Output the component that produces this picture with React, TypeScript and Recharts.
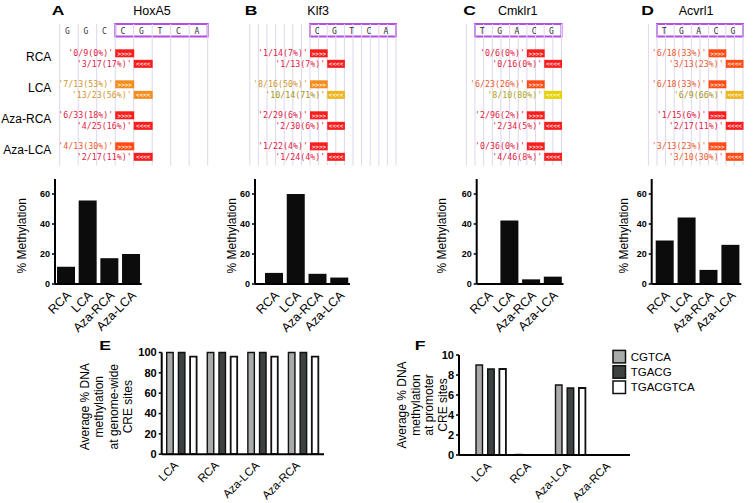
import React from "react";
import {
  BarChart,
  Bar,
  XAxis,
  YAxis,
  Label,
  Legend,
  ScatterChart,
  Scatter,
  ReferenceLine,
  ReferenceArea,
} from "recharts";

// ---- data ----
const samples = ["RCA", "LCA", "Aza-RCA", "Aza-LCA"];
const genes = ["HoxA5", "Klf3", "Cmklr1", "Acvrl1"];
const panelTags = ["A", "B", "C", "D"];
const sequences = ["GGCCGTCA", "CGTCA", "TGACG", "TGACG"];
const creStart = [3, 0, 0, 0];
const creLength = 5;
const cpgAt = [3, 0, 3, 3];

const hoxa5Fwd = ["0/9(0%)", "7/13(53%)", "6/33(18%)", "4/13(30%)"];
const hoxa5Rev = ["3/17(17%)", "13/23(56%)", "4/25(16%)", "2/17(11%)"];
const klf3Fwd = ["1/14(7%)", "8/16(50%)", "2/29(6%)", "1/22(4%)"];
const klf3Rev = ["1/13(7%)", "10/14(71%)", "2/30(6%)", "1/24(4%)"];
const cmklr1Fwd = ["0/6(0%)", "6/23(26%)", "2/96(2%)", "0/36(0%)"];
const cmklr1Rev = ["0/16(0%)", "8/10(80%)", "2/34(5%)", "4/46(8%)"];
const acvrl1Fwd = ["6/18(33%)", "6/18(33%)", "1/15(6%)", "3/13(23%)"];
const acvrl1Rev = ["3/13(23%)", "6/9(66%)", "2/17(11%)", "3/10(30%)"];
const fwdReads = [hoxa5Fwd, klf3Fwd, cmklr1Fwd, acvrl1Fwd];
const revReads = [hoxa5Rev, klf3Rev, cmklr1Rev, acvrl1Rev];

const hoxa5Meth = [11.5, 55.6, 17.2, 20.0];
const klf3Meth = [7.4, 60.0, 6.8, 4.3];
const cmklr1Meth = [0, 42.4, 3.1, 4.9];
const acvrl1Meth = [29.0, 44.4, 9.4, 26.1];
const methValues = [hoxa5Meth, klf3Meth, cmklr1Meth, acvrl1Meth];
const methTicks = [0, 20, 40, 60];

const creGroups = ["LCA", "RCA", "Aza-LCA", "Aza-RCA"];
const creSeries = ["CGTCA", "TGACG", "TGACGTCA"];
const genomeCGTCA = [100, 100, 100, 100];
const genomeTGACG = [100, 100, 100, 100];
const genomeTGACGTCA = [96, 96, 96, 96];
const promoterCGTCA = [9.0, 0.05, 7.0, 0];
const promoterTGACG = [8.6, 0, 6.7, 0];
const promoterTGACGTCA = [8.6, 0, 6.7, 0];
const genomeTicks = [0, 20, 40, 60, 80, 100];
const promoterTicks = [0, 2, 4, 6, 8, 10];
const genomeLabel = ["Average % DNA", "methylation", "at genome-wide", "CRE sites"];
const promoterLabel = ["Average % DNA", "methylation", "at promoter", "CRE sites"];

// ---- styles / layout ----
const FONT = '"Liberation Sans", Arial, Helvetica, sans-serif';
const MONO = '"DejaVu Sans Mono", monospace';
const AXIS = { stroke: "#000", strokeWidth: 2 };
const seriesFill = ["#a9abab", "#3c4141", "#ffffff"];

const TOP_H = 170;
const ROW0 = 53.3;
const ROW_PX = 31;
const REV_DY = 0.34;
const SEQ_Y = -0.735;
const HEAD_Y = -1.38;
const GRID_Y = [-0.95, 3.62];
const CRE_Y = [-0.945, -0.54];

const seqLayout = [
  { left: 0, width: 215, x0: 59.7, cell: 18.5, gridFrom: 0, gridTo: 8, gridStep: 1, tagAt: -0.09, titleAt: 4.99 },
  { left: 215, width: 185, x0: 310, cell: 17.2, gridFrom: -3.5, gridTo: 5, gridStep: 0.5, tagAt: -3.43, titleAt: 0.47 },
  { left: 400, width: 170, x0: 475, cell: 17.3, gridFrom: -0.5, gridTo: 5, gridStep: 0.5, tagAt: -0.32, titleAt: 2.47 },
  { left: 570, width: 185, x0: 657, cell: 17.2, gridFrom: -0.5, gridTo: 5, gridStep: 0.5, tagAt: -0.55, titleAt: 2.27 },
];

const METH_TOP = 172;
const METH_H = 163;
const methLayout = [
  { left: 0, width: 150, axis: 55, right: 8.3, pad: 0, labelX: 25.7 },
  { left: 190, width: 190, axis: 65, right: 30, pad: 8, labelX: 46.3 },
  { left: 380, width: 190, axis: 96.7, right: 6.5, pad: 0, labelX: 66.3 },
  { left: 570, width: 185, axis: 81.7, right: 13.7, pad: 2, labelX: 58 },
];

function readColors(label: string) {
  const pct = parseFloat(label.slice(label.indexOf("(") + 1));
  if (pct < 20) return { text: "#e3203f", box: "#f81e1e" };
  if (pct < 45) return { text: "#ec5a2c", box: "#ff4b14" };
  if (pct < 62) return { text: "#d3952e", box: "#f38e1e" };
  if (pct < 75) return { text: "#a59318", box: "#efb51c" };
  return { text: "#a9a620", box: "#e6d200" };
}

function RotText({ x, y, lines, size, step = 0 }: { x: number; y: number; lines: string[]; size: number; step?: number }) {
  return (
    <g>
      {lines.map((t, i) => {
        const bx = x + i * step;
        return (
          <text key={t} x={bx} y={y} transform={`rotate(-90 ${bx} ${y})`} textAnchor="middle" fontSize={size} fill="#000">
            {t}
          </text>
        );
      })}
    </g>
  );
}

function slantTick(dx: number, dy: number, size: number) {
  return (props: any) => {
    const ax = props.x + dx;
    const ay = props.y + dy;
    return (
      <text x={ax} y={ay} textAnchor="end" fontSize={size} fill="#000" transform={`rotate(-45 ${ax} ${ay})`}>
        {props.payload.value}
      </text>
    );
  };
}

function SeqPanel({ idx }: { idx: number }) {
  const lay = seqLayout[idx];
  const xDom = [(lay.left - lay.x0) / lay.cell, (lay.left + lay.width - lay.x0) / lay.cell];
  const yDom = [-ROW0 / ROW_PX, (TOP_H - ROW0) / ROW_PX];
  const letters = sequences[idx].split("").map((ch, i) => ({ x: i + 0.42, y: SEQ_Y, text: ch }));
  const fwd = fwdReads[idx].map((label, i) => ({ x: cpgAt[idx], y: i, text: label, dir: ">>>>" }));
  const rev = revReads[idx].map((label, i) => ({ x: cpgAt[idx] + 1, y: i + REV_DY, text: label, dir: "<<<<" }));
  const heads = [
    { x: lay.tagAt, y: HEAD_Y, text: panelTags[idx], tag: true },
    { x: lay.titleAt, y: HEAD_Y, text: genes[idx], tag: false },
  ];
  const rowNames = idx === 0 ? samples.map((s, i) => ({ x: -0.45, y: i + 0.09, text: s })) : [];
  const grid: number[] = [];
  for (let g = lay.gridFrom; g <= lay.gridTo + 1e-6; g += lay.gridStep) grid.push(g);

  const readShape = (p: any) => {
    const c = readColors(p.payload.text);
    return (
      <g>
        <rect x={p.cx} y={p.cy - 4} width={lay.cell + 0.5} height={8} fill={c.box} />
        <text x={p.cx + lay.cell / 2 + 0.3} y={p.cy + 2.2} textAnchor="middle" fontSize={6} fontWeight={700} fill="#fff" fillOpacity={0.85} fontFamily={MONO}>
          {p.payload.dir}
        </text>
        <text x={p.cx - 2} y={p.cy + 3} textAnchor="end" fontSize={8.3} fill={c.text} fontFamily={MONO}>
          {`'${p.payload.text}'`}
        </text>
      </g>
    );
  };
  const letterShape = (p: any) => (
    <text x={p.cx} y={p.cy + 3} textAnchor="middle" fontSize={8} fill="#333" fontFamily={MONO}>
      {p.payload.text}
    </text>
  );
  const headShape = (p: any) =>
    p.payload.tag ? (
      <text transform={`translate(${p.cx} ${p.cy + 4.7}) scale(1.35 1)`} textAnchor="middle" fontSize={13} fontWeight={700} fill="#000">
        {p.payload.text}
      </text>
    ) : (
      <text x={p.cx} y={p.cy + 4.5} textAnchor="middle" fontSize={12.5} fill="#000">
        {p.payload.text}
      </text>
    );
  const rowShape = (p: any) => (
    <text x={p.cx} y={p.cy + 4.5} textAnchor="end" fontSize={12} fill="#000">
      {p.payload.text}
    </text>
  );

  return (
    <div style={{ position: "absolute", left: lay.left, top: 0 }}>
      <ScatterChart width={lay.width} height={TOP_H} margin={{ top: 0, right: 0, bottom: 0, left: 0 }}>
        <XAxis type="number" dataKey="x" domain={xDom} hide allowDataOverflow />
        <YAxis type="number" dataKey="y" domain={yDom} reversed hide allowDataOverflow />
        {grid.map((g) => (
          <ReferenceLine
            key={g}
            segment={[
              { x: g, y: GRID_Y[0] },
              { x: g, y: GRID_Y[1] },
            ]}
            stroke="#dcd7ef"
            strokeWidth={1}
          />
        ))}
        <ReferenceArea
          x1={creStart[idx]}
          x2={creStart[idx] + creLength}
          y1={CRE_Y[0]}
          y2={CRE_Y[1]}
          fill="#fff"
          fillOpacity={1}
          stroke="#b24fe0"
          strokeWidth={2}
        />
        <Scatter data={letters} shape={letterShape} isAnimationActive={false} />
        <Scatter data={fwd} shape={readShape} isAnimationActive={false} />
        <Scatter data={rev} shape={readShape} isAnimationActive={false} />
        <Scatter data={heads} shape={headShape} isAnimationActive={false} />
        {rowNames.length > 0 && <Scatter data={rowNames} shape={rowShape} isAnimationActive={false} />}
      </ScatterChart>
    </div>
  );
}

function MethChart({ idx }: { idx: number }) {
  const lay = methLayout[idx];
  const data = samples.map((s, i) => ({ name: s, value: methValues[idx][i] }));
  return (
    <div style={{ position: "absolute", left: lay.left, top: METH_TOP }}>
      <BarChart width={lay.width} height={METH_H} data={data} margin={{ top: 7, right: lay.right, bottom: 0, left: 0 }}>
        <XAxis
          dataKey="name"
          height={51}
          interval={0}
          tickLine={false}
          tickSize={0}
          tickMargin={0}
          axisLine={AXIS}
          padding={{ left: lay.pad, right: 0 }}
          tick={slantTick(6, 12, 12.5)}
        />
        <YAxis
          width={lay.axis}
          domain={[0, 70]}
          ticks={methTicks}
          interval={0}
          tickSize={3}
          tickMargin={2}
          axisLine={AXIS}
          tickLine={{ stroke: "#000", strokeWidth: 1.5 }}
          tick={{ fontSize: 9, fontWeight: 700, fill: "#000" }}
        >
          <Label content={() => <RotText x={lay.labelX} y={63.8} lines={["% Methylation"]} size={12} />} />
        </YAxis>
        <Bar dataKey="value" fill="#0c0c0c" barSize={18} isAnimationActive={false} />
      </BarChart>
    </div>
  );
}

function CreLegend() {
  return (
    <svg width={140} height={50}>
      {creSeries.map((s, i) => {
        const cy = 9.7 + 15.3 * i;
        return (
          <g key={s}>
            <rect x={3} y={cy - 6.3} width={12.5} height={12.5} fill={seriesFill[i]} stroke="#111" strokeWidth={1.5} />
            <text x={20.7} y={cy + 4} fontSize={11.5} fill="#000" fontFamily={FONT}>
              {s}
            </text>
          </g>
        );
      })}
    </svg>
  );
}

type CreProps = {
  left: number;
  width: number;
  top: number;
  right: number;
  axis: number;
  pad: number;
  plotH: number;
  domain: number[];
  ticks: number[];
  values: number[][];
  label: string[];
  labelX: number;
  labelY: number;
  labelStep: number;
  dx: number;
  legend: boolean;
};

function CreChart(p: CreProps) {
  const data = creGroups.map((g, i) => ({ name: g, s0: p.values[0][i], s1: p.values[1][i], s2: p.values[2][i] }));
  return (
    <div style={{ position: "absolute", left: p.left, top: 335 }}>
      <BarChart width={p.width} height={168} data={data} barGap={5.2} margin={{ top: p.top, right: p.right, bottom: 0, left: 0 }}>
        <XAxis
          dataKey="name"
          height={168 - p.top - p.plotH}
          interval={0}
          tickLine={false}
          tickSize={0}
          tickMargin={0}
          axisLine={AXIS}
          padding={{ left: p.pad, right: 0 }}
          tick={slantTick(p.dx, 12, 11.5)}
        />
        <YAxis
          width={p.axis}
          domain={p.domain}
          ticks={p.ticks}
          interval={0}
          tickSize={3}
          tickMargin={2}
          axisLine={AXIS}
          tickLine={{ stroke: "#000", strokeWidth: 1.5 }}
          tick={{ fontSize: 11, fontWeight: 700, fill: "#000" }}
        >
          <Label content={() => <RotText x={p.labelX} y={p.labelY} lines={p.label} size={12} step={p.labelStep} />} />
        </YAxis>
        {p.legend && (
          <Legend
            layout="horizontal"
            verticalAlign="middle"
            align="center"
            content={() => <CreLegend />}
            wrapperStyle={{ left: 230, top: 12, width: 140, height: 50 }}
          />
        )}
        {creSeries.map((s, i) => (
          <Bar
            key={s}
            dataKey={`s${i}`}
            name={s}
            fill={seriesFill[i]}
            stroke="#111"
            strokeWidth={i === 2 ? 1.8 : 1.4}
            barSize={6.5}
            isAnimationActive={false}
          />
        ))}
      </BarChart>
    </div>
  );
}

function Tag({ x, y, text }: { x: number; y: number; text: string }) {
  return (
    <svg style={{ position: "absolute", left: x - 12, top: y - 12 }} width={24} height={24}>
      <text transform="translate(12 16.7) scale(1.35 1)" textAnchor="middle" fontSize={13} fontWeight={700} fill="#000" fontFamily={FONT}>
        {text}
      </text>
    </svg>
  );
}

export default function App() {
  return (
    <div style={{ position: "absolute", left: 0, top: 0, width: 755, height: 503, background: "#fff", fontFamily: FONT, overflow: "hidden" }}>
      {seqLayout.map((_, i) => (
        <SeqPanel key={`s${i}`} idx={i} />
      ))}
      {methLayout.map((_, i) => (
        <MethChart key={`m${i}`} idx={i} />
      ))}
      <CreChart
        left={0}
        width={335}
        top={17.5}
        right={11}
        axis={161.7}
        pad={0}
        plotH={101.7}
        domain={[0, 100]}
        ticks={genomeTicks}
        values={[genomeCGTCA, genomeTGACG, genomeTGACGTCA]}
        label={genomeLabel}
        labelX={89}
        labelY={71.7}
        labelStep={14.5}
        dx={-3}
        legend={false}
      />
      <CreChart
        left={380}
        width={375}
        top={20}
        right={125}
        axis={79}
        pad={12}
        plotH={100}
        domain={[0, 10]}
        ticks={promoterTicks}
        values={[promoterCGTCA, promoterTGACG, promoterTGACGTCA]}
        label={promoterLabel}
        labelX={26}
        labelY={70}
        labelStep={13.5}
        dx={1}
        legend={true}
      />
      <Tag x={105} y={344.5} text="E" />
      <Tag x={420} y={344.5} text="F" />
    </div>
  );
}
